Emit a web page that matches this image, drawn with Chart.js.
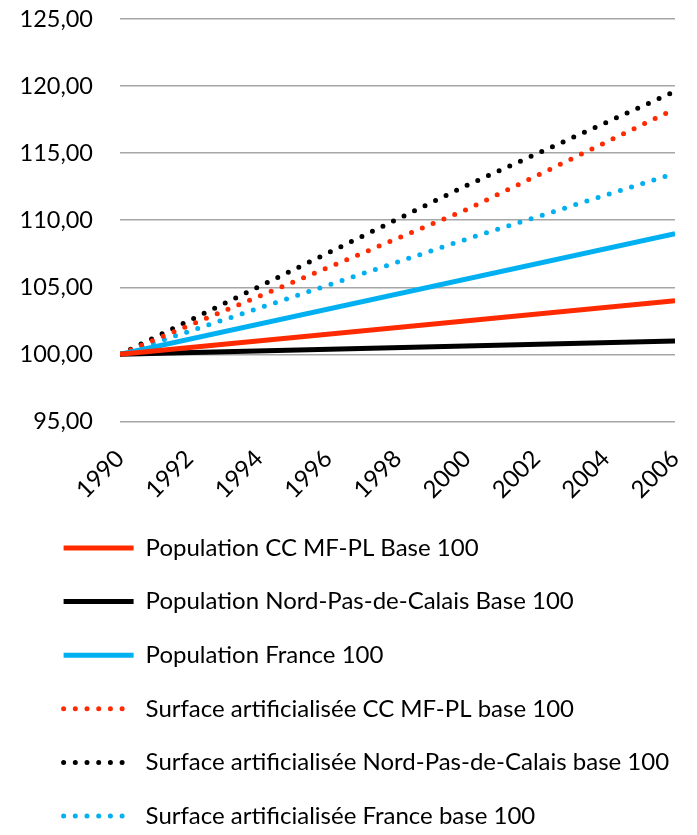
<!DOCTYPE html>
<html>
<head>
<meta charset="utf-8">
<script src="https://cdn.jsdelivr.net/npm/chart.js@4/dist/chart.umd.min.js"></script>
<style>
  html, body { margin: 0; padding: 0; background: #ffffff; }
  #wrap { width: 697px; height: 835px; position: relative; }
</style>
</head>
<body>
<div id="wrap"><canvas id="c"></canvas></div>
<script>
// ---- Data ----
const years = [1990, 1992, 1994, 1996, 1998, 2000, 2002, 2004, 2006]; // tick labels
const yTicks = [95, 100, 105, 110, 115, 120, 125];

const seriesNames = [
  "Population CC MF-PL Base 100",
  "Population Nord-Pas-de-Calais Base 100",
  "Population France 100",
  "Surface artificialisée CC MF-PL base 100",
  "Surface artificialisée Nord-Pas-de-Calais base 100",
  "Surface artificialisée France base 100"
];

// population series: values observed at 1990 and 2006
const popYears = [1990, 2006];
const popCCMFPL = [100.0, 104.0];
const popNPdC   = [100.0, 101.0];
const popFrance = [100.0, 109.0];

// artificialised surface: values observed at 1990, 2000 and 2006
const surfYears = [1990, 2000, 2006];
const surfCCMFPL = [100.0, 110.8, 118.3];
const surfNPdC   = [100.0, 112.6, 119.6];
const surfFrance = [100.0, 108.6, 113.5];

// ---- Chart ----
const RED = '#ff2a00', BLACK = '#000000', BLUE = '#00b0f0';
const toXY = (xs, ys) => xs.map((x, i) => ({ x: x, y: ys[i] }));
const DOT = [0, 11.7];

function solid(label, xs, ys, color) {
  return { label, data: toXY(xs, ys), borderColor: color, backgroundColor: color,
           borderWidth: 5, borderCapStyle: 'butt', pointRadius: 0, tension: 0, fill: false };
}
function dotted(label, xs, ys, color) {
  return { label, data: toXY(xs, ys), borderColor: color, backgroundColor: color,
           borderWidth: 5, borderDash: DOT, borderCapStyle: 'round', pointRadius: 0, tension: 0, fill: false };
}

Chart.defaults.font.family = 'Lato, "DejaVu Sans", sans-serif';
Chart.defaults.color = '#000000';

const shiftLegend = {
  id: 'shiftLegend',
  afterLayout(chart) {
    if (chart.legend) { chart.legend.left = 34; chart.legend.top += 3; chart.legend.bottom += 3; }
  }
};

new Chart(document.getElementById('c'), {
  type: 'line',
  data: {
    datasets: [
      solid(seriesNames[0], popYears, popCCMFPL, RED),
      solid(seriesNames[1], popYears, popNPdC, BLACK),
      solid(seriesNames[2], popYears, popFrance, BLUE),
      dotted(seriesNames[3], surfYears, surfCCMFPL, RED),
      dotted(seriesNames[4], surfYears, surfNPdC, BLACK),
      dotted(seriesNames[5], surfYears, surfFrance, BLUE)
    ]
  },
  options: {
    responsive: true,
    maintainAspectRatio: false,
    animation: false,
    layout: { padding: { left: 21, right: 22, top: 19, bottom: 0 } },
    scales: {
      x: {
        type: 'linear',
        min: years[0],
        max: years[years.length - 1],
        afterBuildTicks(scale) { scale.ticks = years.map(v => ({ value: v })); },
        afterFit(scale) { scale.paddingLeft = 0; scale.paddingRight = 0; scale.height = 82; },
        grid: { display: false, drawTicks: false },
        border: { display: false },
        ticks: {
          autoSkip: false,
          minRotation: 45,
          maxRotation: 45,
          padding: 23,
          font: { size: 24 },
          color: '#000',
          callback: v => String(v)
        }
      },
      y: {
        min: yTicks[0],
        max: yTicks[yTicks.length - 1],
        afterBuildTicks(scale) { scale.ticks = yTicks.map(v => ({ value: v })); },
        afterFit(scale) { scale.paddingTop = 0; scale.paddingBottom = 0; scale.width = 99; },
        grid: { color: '#a6a6a6', lineWidth: 1.5, drawTicks: false },
        border: { display: false },
        ticks: {
          padding: 27,
          font: { size: 23.5 },
          color: '#000',
          callback: v => Number(v).toFixed(2).replace('.', ',')
        }
      }
    },
    plugins: {
      tooltip: { enabled: false },
      legend: {
        position: 'bottom',
        align: 'start',
        labels: {
          usePointStyle: true,
          pointStyle: 'line',
          pointStyleWidth: 70,
          boxWidth: 70,
          padding: 29.6,
          color: '#000',
          font: { size: 24 },
          generateLabels(chart) {
            return chart.data.datasets.map((ds, i) => ({
              text: ds.label,
              fillStyle: ds.borderColor,
              strokeStyle: ds.borderColor,
              fontColor: '#000',
              lineWidth: ds.borderWidth,
              lineDash: ds.borderDash || [],
              lineCap: ds.borderCapStyle,
              pointStyle: 'line',
              hidden: false,
              datasetIndex: i
            }));
          }
        }
      }
    }
  },
  plugins: [shiftLegend]
});
</script>
</body>
</html>
